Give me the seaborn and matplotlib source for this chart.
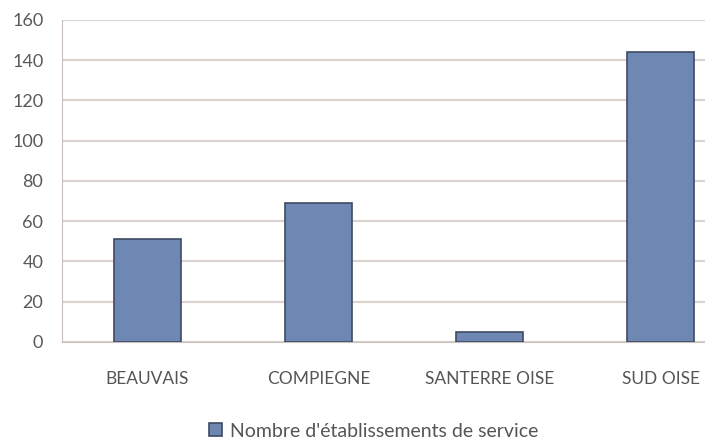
import pandas as pd
import seaborn as sns
import matplotlib.pyplot as plt

# données
categories = ['BEAUVAIS', 'COMPIEGNE', 'SANTERRE OISE', 'SUD OISE']
valeurs = [51, 69, 5, 144]
serie = "Nombre d'établissements de service"

df = pd.DataFrame({'zone': categories, 'n': valeurs})

sns.set_style('white')
plt.rcParams['font.family'] = ['Lato', 'DejaVu Sans']

fig = plt.figure(figsize=(7.05, 4.43), dpi=100)
ax = fig.add_axes([0.088, 0.228, 0.912, 0.727])

sns.barplot(data=df, x='zone', y='n', color='#6f87b3', width=0.39,
            edgecolor='#3e4a63', linewidth=1.2, saturation=1, ax=ax,
            label=serie, zorder=3)

ax.set_ylim(0, 160)
ax.set_yticks(range(0, 161, 20))
# l'axe continue au-delà du bord droit (image rognée)
ax.set_xlim(-0.5, 3.26)
ax.yaxis.grid(True, color='#dbd3d0', linewidth=1.6, zorder=0)
ax.set_axisbelow(True)
for s in ['top', 'right']:
    ax.spines[s].set_visible(False)
ax.spines['left'].set_color('#c9c0bd')
ax.spines['bottom'].set_color('#c9c0bd')
ax.tick_params(axis='y', length=4.5, color='#c9c0bd', labelsize=13, labelcolor='#5a5a5a', pad=9)
ax.tick_params(axis='x', length=0, labelsize=12.5, labelcolor='#555555', pad=21)
# petites graduations entre les catégories
ax.set_xticks([0.5, 1.5, 2.5], minor=True)
ax.tick_params(axis='x', which='minor', length=5, color='#c9c0bd')
ax.set_xlabel('')
ax.set_ylabel('')

h, l = ax.get_legend_handles_labels()
if ax.get_legend() is not None:
    ax.get_legend().remove()
fig.legend(h, l, loc='center', bbox_to_anchor=(0.53, 0.027), frameon=False,
           fontsize=14, handlelength=0.65, handleheight=0.65, handletextpad=0.4,
           labelcolor='#555555')

plt.savefig('out.png', dpi=100)
